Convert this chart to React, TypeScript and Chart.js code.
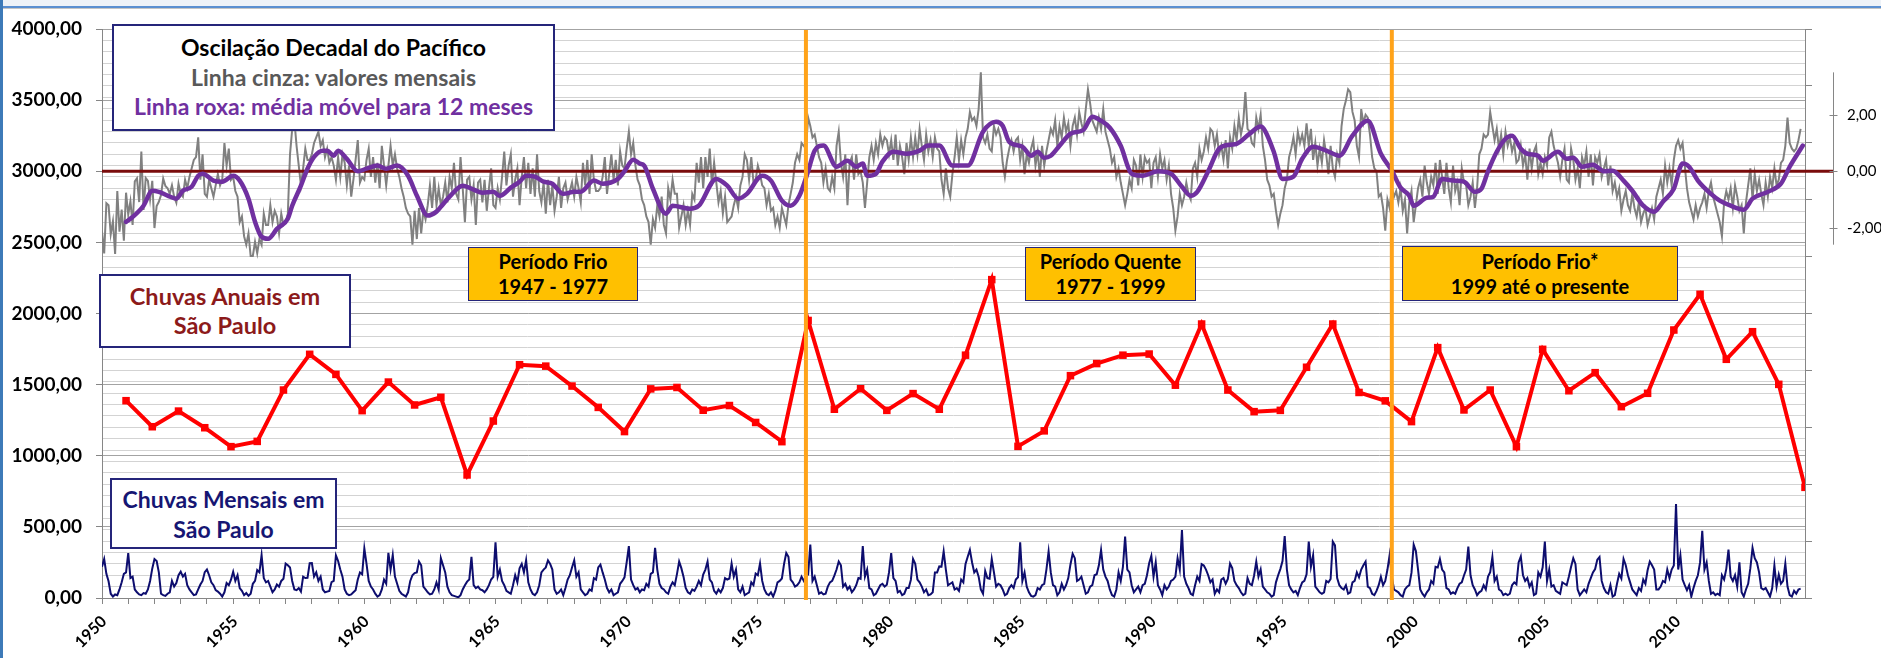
import React, { useEffect, useRef } from 'react';
import { Chart, registerables } from 'chart.js';

Chart.register(...registerables);

// ---------------- DATA ----------------
const startYear = 1950;
const lastMonthIndex = 779; // Dec 2014
const yearLabels = ['1950', '1955', '1960', '1965', '1970', '1975', '1980', '1985', '1990', '1995', '2000', '2005', '2010'];
const rainAxisTicks = [0, 500, 1000, 1500, 2000, 2500, 3000, 3500, 4000];
const pdoTicks = [-2, 0, 2];

// Annual rainfall in São Paulo (mm), 1950..2014
const rainAnnual = [
  1387, 1204, 1314, 1197, 1064, 1101, 1462, 1713, 1572, 1317,
  1518, 1357, 1411, 865, 1244, 1640, 1630, 1490, 1340, 1170,
  1470, 1480, 1320, 1353, 1234, 1099, 1951, 1327, 1471, 1319,
  1437, 1327, 1707, 2238, 1066, 1175, 1563, 1648, 1707, 1715,
  1496, 1926, 1462, 1310, 1319, 1622, 1926, 1445, 1386, 1240,
  1760, 1322, 1462, 1064, 1748, 1457, 1584, 1345, 1439, 1884,
  2135, 1678, 1872, 1502, 778,
];

// Monthly rainfall in São Paulo (mm), Jan 1950 .. Oct 2014
const rainMonthly = [
  220, 274, 170, 118, 30, 10, 25, 20, 60, 110, 170, 180,
  316, 140, 150, 60, 40, 25, 20, 35, 30, 60, 120, 208,
  274, 260, 180, 30, 20, 15, 30, 40, 120, 80, 105, 160,
  185, 150, 170, 90, 60, 40, 20, 25, 60, 95, 120, 182,
  200, 160, 110, 90, 55, 45, 30, 10, 40, 105, 90, 129,
  185, 120, 160, 70, 50, 20, 35, 15, 30, 100, 120, 196,
  180, 302, 140, 110, 120, 80, 40, 60, 95, 80, 120, 135,
  242, 230, 215, 120, 60, 55, 70, 45, 150, 140, 142, 244,
  245, 150, 180, 120, 150, 60, 40, 45, 50, 112, 120, 300,
  260, 200, 150, 60, 30, 20, 25, 40, 55, 130, 180, 167,
  349, 240, 120, 80, 60, 30, 10, 20, 60, 130, 101, 318,
  200, 302, 150, 100, 50, 30, 20, 10, 40, 120, 160, 175,
  180, 256, 230, 80, 60, 40, 25, 30, 60, 110, 60, 280,
  230, 180, 80, 40, 20, 15, 10, 5, 20, 60, 90, 115,
  130, 290, 90, 70, 80, 60, 55, 40, 60, 90, 130, 149,
  391, 150, 200, 120, 90, 50, 40, 30, 90, 160, 110, 209,
  240, 180, 265, 110, 60, 30, 20, 40, 90, 180, 200, 215,
  265, 240, 200, 60, 30, 40, 60, 20, 70, 130, 160, 215,
  265, 150, 180, 60, 40, 20, 30, 60, 50, 140, 130, 215,
  235, 180, 130, 70, 40, 60, 20, 30, 40, 100, 120, 145,
  250, 365, 130, 90, 60, 70, 40, 60, 55, 100, 80, 170,
  180, 352, 200, 100, 70, 60, 40, 30, 80, 110, 90, 168,
  256, 210, 150, 70, 40, 30, 60, 50, 80, 120, 90, 164,
  200, 256, 130, 110, 50, 30, 60, 40, 70, 140, 130, 137,
  242, 150, 200, 60, 40, 80, 20, 30, 40, 110, 90, 172,
  160, 242, 120, 60, 30, 20, 40, 10, 50, 110, 120, 137,
  240, 316, 290, 130, 110, 80, 90, 110, 150, 120, 150, 165,
  375, 120, 150, 90, 30, 40, 25, 30, 80, 110, 120, 157,
  200, 256, 230, 80, 100, 60, 80, 40, 60, 90, 140, 135,
  365, 150, 200, 70, 60, 20, 30, 60, 90, 100, 80, 94,
  180, 316, 140, 120, 40, 50, 20, 30, 70, 70, 127, 274,
  240, 130, 110, 80, 40, 60, 20, 25, 40, 180, 180, 222,
  220, 327, 200, 90, 100, 110, 60, 70, 50, 130, 110, 240,
  290, 338, 250, 180, 200, 150, 60, 30, 190, 140, 136, 274,
  180, 80, 100, 90, 60, 20, 30, 70, 90, 70, 130, 146,
  391, 120, 180, 80, 40, 15, 10, 20, 70, 60, 90, 99,
  200, 327, 180, 90, 80, 20, 40, 100, 60, 90, 140, 236,
  311, 280, 120, 130, 150, 90, 30, 40, 80, 90, 160, 167,
  230, 338, 200, 150, 120, 60, 20, 10, 60, 180, 120, 219,
  431, 200, 180, 90, 40, 60, 80, 40, 90, 100, 160, 244,
  296, 150, 250, 90, 60, 20, 90, 60, 80, 120, 130, 150,
  280, 200, 478, 150, 100, 70, 30, 20, 90, 150, 120, 238,
  228, 200, 160, 110, 130, 30, 60, 40, 130, 140, 100, 134,
  242, 210, 120, 90, 70, 40, 20, 30, 140, 100, 90, 158,
  256, 150, 200, 80, 60, 40, 30, 10, 20, 110, 160, 203,
  260, 436, 200, 90, 60, 40, 50, 20, 70, 110, 120, 166,
  396, 220, 300, 80, 60, 40, 30, 40, 120, 110, 134, 396,
  370, 140, 90, 70, 60, 90, 30, 40, 110, 120, 180, 145,
  200, 230, 256, 80, 70, 30, 20, 50, 90, 150, 90, 120,
  200, 302, 150, 60, 50, 40, 20, 10, 60, 80, 90, 178,
  375, 330, 200, 60, 30, 10, 40, 60, 120, 100, 220, 215,
  274, 200, 180, 70, 60, 30, 40, 30, 70, 100, 110, 158,
  200, 361, 160, 90, 60, 20, 40, 50, 90, 60, 150, 181,
  288, 120, 150, 60, 50, 20, 30, 20, 30, 90, 110, 96,
  250, 292, 160, 120, 140, 80, 110, 20, 30, 180, 150, 216,
  396, 120, 200, 80, 90, 50, 40, 30, 110, 100, 90, 151,
  220, 280, 240, 60, 20, 40, 60, 40, 100, 140, 180, 204,
  270, 288, 120, 70, 40, 30, 90, 10, 20, 100, 170, 137,
  274, 230, 160, 110, 60, 40, 20, 70, 50, 130, 100, 195,
  256, 230, 200, 60, 60, 80, 120, 110, 200, 140, 200, 228,
  661, 200, 300, 130, 90, 54, 90, 10, 70, 120, 160, 250,
  473, 200, 250, 120, 30, 40, 20, 30, 20, 160, 130, 205,
  340, 150, 120, 160, 80, 250, 40, 10, 60, 100, 210, 352,
  280, 250, 180, 70, 60, 70, 40, 10, 70, 228, 80, 164,
  100, 120, 242, 80, 20, 10, 50, 30, 60, 66,
];

// Pacific Decadal Oscillation, monthly index, Jan 1950 .. Oct 2014 (grey line)
const pdoMonthly = [
  -2.13, -2.91, -1.13, -1.2, -2.23, -1.77, -2.93, -0.7, -2.14, -1.36, -2.46, -0.76,
  -1.54, -1.06, -1.9, -0.36, -0.25, -1.09, 0.7, -1.37, -0.24, -0.34, -1.0, -0.34,
  -2.01, -1.23, -1.08, -0.84, -0.26, -0.52, -0.6, -0.8, -0.5, -0.9, -1.11, -0.44,
  -0.8, -0.9, -0.3, -0.6, -0.2, 0.1, 0.4, 0.5, 1.2, -0.3, 0.6, -0.8,
  -0.9, -0.3, -0.6, -0.9, -0.5, -0.1, -0.5, -0.3, 1.0, 0.2, 0.8, -0.3,
  -0.2, -0.7, -0.9, -1.8, -1.6, -2.3, -2.6, -2.2, -3.0, -3.0, -2.5, -2.9,
  -2.4, -2.6, -1.5, -1.9, -1.9, -1.2, -1.8, -1.4, -1.6, -2.2, -1.5, -1.9,
  -1.8, -1.5, 0.6, 1.5, 1.8, 0.9, 0.2, -0.5, 0.1, 0.8, 0.4, 0.4,
  0.6, 1.0, 1.2, 1.4, 0.9, 1.1, 0.5, 0.8, 0.3, 0.5, 0.2, -0.3,
  0.5, -0.2, 0.6, 0.3, -0.5, 0.2, -0.9, -0.3, 0.4, 1.1, -0.4, -0.2,
  -0.3, 0.4, 0.8, -0.2, 0.5, -0.4, 0.3, -0.6, 0.9, 0.2, -0.5, 0.2,
  0.9, 0.2, 0.6, 0.1, -0.2, -0.6, -0.9, -1.3, -1.5, -1.6, -2.6, -1.4,
  -2.4, -1.3, -2.2, -1.4, -1.7, -1.2, -0.5, -1.3, -0.2, -1.2, -0.6, -1.2,
  -0.9, -0.4, -1.1, -0.2, -0.6, 0.3, -0.8, -1.0, 0.5, -0.6, -1.8, -0.3,
  -0.2, -1.0, -0.5, -1.9, -0.4, -0.3, -1.1, -0.3, -1.4, -0.6, 0.1, -1.2,
  -1.3, -0.6, -1.0, -0.2, 0.7, -0.5, 0.2, 0.6, -0.9, -0.3, 0.1, -1.2,
  -0.2, 0.5, -0.6, 0.3, -0.8, 0.1, -0.9, 0.6, -0.7, -1.1, -0.4, -1.5,
  -0.3, -1.2, -0.5, -1.4, -0.9, -0.2, -1.3, -0.6, -0.4, -1.0, -0.7, -0.4,
  -0.9, -0.2, -0.6, -1.1, 0.3, -0.5, 0.4, -0.8, 0.6, -0.3, -0.7, -0.7,
  -0.6, -0.2, 0.5, -0.8, -0.1, 0.6, -0.3, 0.4, -0.5, 0.7, 0.2, 0.1,
  0.8, 1.4, 0.6, 1.0, 0.2, -0.3, -0.5, -1.0, -1.2, -1.6, -1.8, -2.6,
  -1.7, -2.0, -1.2, -1.6, -0.9, -1.9, -2.2, -0.6, -1.0, -0.3, -0.8, -0.8,
  -2.0, -1.6, -1.2, -1.9, -1.4, -1.9, -0.8, -1.0, 0.3, -0.4, 0.5, -0.6,
  0.5, -0.2, 0.8, -0.5, 0.3, -0.4, -1.1, -0.7, -1.5, -0.9, -1.8, -1.7,
  -1.6, -1.2, -0.9, -1.3, -0.5, -0.2, 0.6, 0.4, -0.3, 0.5, -0.4, -0.3,
  0.2, -0.1, -0.5, -0.6, -1.2, -0.8, -1.4, -1.3, -1.9, -1.6, -2.0, -1.3,
  -1.6, -1.9, -1.2, -0.8, -0.4, 0.3, 0.6, 0.4, 1.0, 0.9, 0.8, 1.9,
  1.6, 1.2, 1.3, 0.9, 0.5, 0.3, -0.4, 0.1, -0.6, -0.7, -0.2, -0.6,
  0.9, 1.4, 0.3, -0.2, 0.6, -1.2, 0.3, 0.5, -0.3, 0.6, -0.1, 0.0,
  -0.4, -1.3, -0.4, 0.5, 0.9, 0.4, 1.0, 0.6, 1.3, 0.9, 1.2, 1.1,
  0.6, 1.1, 0.4, 1.3, 0.2, 0.9, 0.5, -0.1, 1.0, 0.4, 1.2, 0.5,
  1.2, 0.6, 1.5, 0.9, 0.4, 1.3, 0.7, 1.1, 0.5, 1.2, 0.8, 0.7,
  -0.3, -0.8, 0.1, -0.6, -0.9, -0.1, 0.5, 1.2, 0.4, 1.1, 0.6, 1.2,
  1.5, 2.1, 1.8, 1.9, 1.6, 2.2, 3.5, 1.2, 1.0, 1.3, 0.8, 0.7,
  1.6, 1.3, 1.5, 1.2, 0.3, -0.2, 0.4, 0.8, 1.1, 0.7, 1.1, 1.2,
  0.4, 0.9, -0.1, 0.6, 0.3, 0.8, 1.1, 0.2, 0.7, -0.2, 0.9, 0.2,
  0.7, 1.1, 1.5, 1.3, 1.8, 0.9, 1.6, 1.2, 1.9, 1.4, 1.7, 0.9,
  1.6, 1.9, 1.3, 2.1, 1.7, 1.4, 2.2, 2.9, 2.4, 1.8, 1.6, 1.4,
  1.9, 1.5, 2.2, 1.4, 1.1, 0.8, 0.3, 0.5, -0.2, 0.1, -0.4, -0.8,
  -1.2, -0.8, -0.3, -0.6, 0.4, 0.2, -0.5, 0.6, -0.2, 0.5, 0.3, 0.4,
  -0.6, 0.3, 0.5, -0.2, 0.6, 0.1, 0.4, -0.3, 0.2, -0.8, -1.3, -2.1,
  -1.6, -0.8, -1.2, -0.9, -0.4, -0.8, -1.0, 0.1, 0.3, -0.2, 0.8, 0.4,
  0.7, 1.2, 0.8, 1.5, 1.4, 0.9, 1.3, 0.6, 0.9, 0.4, 1.1, 0.1,
  1.2, 0.8, 1.6, 1.1, 1.9, 1.3, 1.7, 2.8, 1.5, 1.4, 1.0, 0.9,
  1.9, 1.5, 2.0, 0.9, 0.4, -0.3, -0.5, -0.9, -0.8, -1.4, -1.9, -1.5,
  -1.2, -0.6, -0.3, 0.5, 0.8, 1.2, 0.6, 1.4, 1.0, 1.3, 0.9, 1.7,
  0.9, 1.5, 0.4, 1.0, 0.2, 0.8, 0.3, 1.1, 0.6, -0.1, 0.9, 0.1,
  -0.2, 0.6, 0.3, 1.6, 2.2, 2.5, 2.9, 2.8, 2.1, 1.8, 0.9, 0.5,
  2.2, 1.7, 2.0, 1.9, 1.3, 0.5, 0.1, 0.0, -0.9, -0.8, -1.3, -2.1,
  -1.0, -1.3, -0.6, -0.9, -0.7, -1.1, -0.6, -1.4, -1.0, -2.2, -1.1, -0.7,
  -1.8, -1.2, -0.6, -0.3, -0.9, 0.2, -0.4, -0.8, -0.2, -0.5, 0.3, -0.8,
  0.4, -0.2, -0.8, 0.3, -0.6, -1.1, 0.2, -0.7, -0.4, -1.2, 0.1, -0.4,
  -0.5, -1.2, -0.9, -0.4, -1.3, -0.6, 0.6, 0.8, 1.3, 1.2, 1.3, 2.1,
  1.6, 1.1, 1.5, 0.8, 1.3, 0.6, 1.4, 0.9, 1.2, 0.7, 1.0, 0.3,
  0.4, 0.9, 0.2, 0.6, -0.3, 0.8, 0.1, 0.7, 0.9, -0.1, 0.3, -0.1,
  0.5, 0.2, 1.2, 1.4, 0.9, 0.6, 0.3, -0.2, 0.4, 0.8, -0.3, -0.4,
  0.8, 0.4, -0.3, 0.1, -0.6, 0.5, 0.2, 0.7, -0.2, 0.6, -0.5, 0.5,
  0.3, 0.6, -0.2, 0.1, 0.4, -0.5, 0.2, -0.7, -0.4, -0.9, -0.6, -1.4,
  -1.0, -0.7, -1.2, -1.4, -0.8, -1.3, -1.6, -1.1, -1.8, -1.5, -1.3, -1.9,
  -1.6, -1.3, -1.7, -0.9, -0.6, -0.3, -0.8, 0.2, -0.4, 0.1, -0.5, 0.4,
  0.9, 1.1, 0.8, 1.0, 0.2, -0.6, -1.1, -1.4, -1.7, -1.2, -1.6, -1.3,
  -1.1, -0.8, -1.3, -0.7, -0.4, -0.9, -1.2, -1.5, -1.8, -2.3, -1.1, -0.7,
  -1.0, -0.6, -1.3, -0.5, -0.9, -1.4, -1.2, -2.2, -1.1, -0.5, 0.1, -1.0,
  -0.1, -0.7, -0.3, -0.8, -1.2, -0.4, -0.9, -0.2, -0.6, 0.1, -0.5, -0.3,
  0.3, 0.4, 0.9, 1.9, 1.0, 0.8, 0.7, 0.8, 1.1, 1.5,
];

// 12-month moving average of the PDO (purple line), read at these month indexes
const pdoAvgMonth = [
  11, 14, 19, 23, 26, 30, 34, 37, 41, 44, 46, 51, 55, 60, 63, 67, 70, 73, 76, 80,
  85, 87, 91, 94, 97, 101, 103, 106, 108, 112, 117, 121, 126, 130, 135, 140, 144, 149, 153, 155,
  159, 165, 170, 174, 179, 182, 187, 191, 194, 198, 202, 206, 211, 216, 219, 225, 229, 236, 239, 243,
  246, 248, 252, 258, 261, 269, 273, 281, 286, 291, 295, 302, 306, 311, 315, 319, 323, 326, 330, 336,
  341, 345, 348, 350, 354, 357, 362, 368, 374, 378, 383, 389, 396, 403, 409, 412, 415, 421, 425, 428,
  431, 434, 438, 443, 449, 453, 457, 461, 466, 471, 476, 483, 489, 494, 498, 501, 506, 511, 516, 519,
  525, 530, 532, 536, 540, 545, 549, 554, 560, 566, 572, 579, 585, 590, 594, 598, 600, 606, 609, 613,
  618, 623, 628, 631, 634, 638, 642, 645, 649, 652, 657, 659, 666, 670, 673, 677, 682, 687, 691, 696,
  700, 705, 710, 714, 719, 723, 726, 730, 736, 740, 745, 751, 755, 762, 768, 772, 778,
];
const pdoAvgValue = [
  -1.79, -1.62, -1.22, -0.69, -0.73, -0.86, -0.97, -0.69, -0.55, -0.16, -0.09, -0.33, -0.37, -0.16, -0.33, -0.97, -1.79, -2.32, -2.39, -2.04,
  -1.68, -1.22, -0.51, 0.09, 0.51, 0.73, 0.73, 0.55, 0.73, 0.44, 0.0, 0.09, 0.2, 0.09, 0.2, -0.16, -0.86, -1.57, -1.43, -1.26,
  -0.9, -0.51, -0.65, -0.76, -0.73, -0.87, -0.58, -0.37, -0.16, -0.19, -0.37, -0.44, -0.8, -0.73, -0.73, -0.33, -0.44, -0.27, 0.0, 0.41,
  0.27, 0.2, -0.62, -1.5, -1.22, -1.33, -1.22, -0.27, -0.51, -0.97, -0.8, -0.16, -0.33, -1.04, -1.22, -0.87, 0.0, 0.73, 0.91, 0.16,
  0.37, 0.16, 0.27, -0.16, -0.09, 0.34, 0.69, 0.62, 0.73, 0.91, 0.91, 0.2, 0.2, 1.4, 1.75, 1.61, 1.04, 0.87, 0.55, 0.69,
  0.48, 0.55, 0.9, 1.33, 1.47, 1.93, 1.79, 1.54, 0.9, -0.09, -0.16, 0.0, -0.09, -0.55, -0.87, -0.73, 0.0, 0.8, 0.94, 0.97,
  1.33, 1.58, 1.43, 0.69, -0.27, -0.19, 0.44, 0.87, 0.73, 0.55, 1.26, 1.79, 0.62, 0.02, -0.58, -0.87, -1.22, -0.94, -0.9, -0.27,
  -0.33, -0.37, -0.73, -0.62, 0.0, 0.69, 1.15, 1.26, 0.8, 0.62, 0.55, 0.37, 0.69, 0.44, 0.48, 0.16, 0.23, 0.0, 0.02, -0.33,
  -0.69, -1.22, -1.43, -1.08, -0.62, 0.27, 0.16, -0.33, -0.8, -1.04, -1.22, -1.36, -0.97, -0.73, -0.44, 0.16, 0.91,
];

// Period boundaries (month index): end of 1976, early 1999
const periodBoundaryMonths = [322, 590];

// PDO axis placement relative to the rain axis (PDO 0 sits on 3000 mm)
const pdoZeroOnRainAxis = 3000;
const rainUnitsPerPdo = 198.6;
const pdoAxisSpan = [-2.6, 3.5];

// ---------------- STYLE ----------------
const FONT = "Lato, 'Noto Sans', 'DejaVu Sans', sans-serif";
const AXIS_GREY = '#868686';
const W = 1881;
const H = 658;
const PDO_AXIS_LINE_OFFSET = 14; // pdo axis line sits this far left of its labels

const fmt = (v: number) => Number(v).toFixed(2).replace('.', ',');

const overlayPlugin = {
  id: 'pdoOverlay',
  beforeDatasetDraw(chart: any, args: any) {
    const ds = chart.data.datasets[args.index];
    if (!ds || ds.label !== 'PDO - média móvel 12 meses') return;
    const y2 = chart.scales.y2;
    const { ctx, chartArea } = chart;
    const y = y2.getPixelForValue(0);
    ctx.save();
    ctx.strokeStyle = '#7a0c0c';
    ctx.lineWidth = 3;
    ctx.beginPath();
    ctx.moveTo(chartArea.left, y);
    ctx.lineTo(y2.left - PDO_AXIS_LINE_OFFSET, y);
    ctx.stroke();
    ctx.restore();
  },
  afterDatasetsDraw(chart: any) {
    const { ctx, chartArea } = chart;
    const xs = chart.scales.x;
    ctx.save();
    ctx.strokeStyle = '#ffa31a';
    ctx.lineWidth = 4;
    periodBoundaryMonths.forEach((m) => {
      const x = xs.getPixelForValue(m);
      ctx.beginPath();
      ctx.moveTo(x, chartArea.top + 1);
      ctx.lineTo(x, chartArea.bottom + 2);
      ctx.stroke();
    });
    ctx.restore();
  },
  afterDraw(chart: any) {
    const y2 = chart.scales.y2;
    const { ctx } = chart;
    const x = Math.round(y2.left - PDO_AXIS_LINE_OFFSET) + 0.5;
    ctx.save();
    ctx.strokeStyle = AXIS_GREY;
    ctx.lineWidth = 1;
    ctx.beginPath();
    ctx.moveTo(x, y2.getPixelForValue(pdoAxisSpan[1]));
    ctx.lineTo(x, y2.getPixelForValue(pdoAxisSpan[0]));
    pdoTicks.forEach((t) => {
      const y = Math.round(y2.getPixelForValue(t)) + 0.5;
      ctx.moveTo(x - 4, y);
      ctx.lineTo(x + 4, y);
    });
    ctx.stroke();
    ctx.restore();
  },
};

type BoxSpec = {
  left: number; top: number; width: number; height: number; bg: string; border: number;
  fontSize: number; lineHeight: number; lines: [string, string][];
};

const annotationBoxes: BoxSpec[] = [
  {
    left: 112, top: 24, width: 443, height: 107, bg: '#ffffff', border: 2, fontSize: 23, lineHeight: 29.5,
    lines: [
      ['Oscilação Decadal do Pacífico', '#000000'],
      ['Linha cinza: valores mensais', '#595959'],
      ['Linha roxa: média móvel para 12 meses', '#7030a0'],
    ],
  },
  {
    left: 99, top: 274, width: 252, height: 74, bg: '#ffffff', border: 2, fontSize: 23.5, lineHeight: 29,
    lines: [['Chuvas Anuais em', '#8c1a1a'], ['São Paulo', '#8c1a1a']],
  },
  {
    left: 110, top: 478, width: 227, height: 71, bg: '#ffffff', border: 2, fontSize: 23, lineHeight: 30,
    lines: [['Chuvas Mensais em', '#161673'], ['São Paulo', '#161673']],
  },
  {
    left: 468, top: 247, width: 170, height: 54, bg: '#ffc000', border: 1.5, fontSize: 20, lineHeight: 25,
    lines: [['Período Frio', '#000000'], ['1947 - 1977', '#000000']],
  },
  {
    left: 1025, top: 247, width: 171, height: 54, bg: '#ffc000', border: 1.5, fontSize: 20, lineHeight: 25,
    lines: [['Período Quente', '#000000'], ['1977 - 1999', '#000000']],
  },
  {
    left: 1402, top: 246, width: 276, height: 55, bg: '#ffc000', border: 1.5, fontSize: 20, lineHeight: 25,
    lines: [['Período Frio*', '#000000'], ['1999 até o presente', '#000000']],
  },
];

function AnnotationBox({ spec }: { spec: BoxSpec }) {
  return (
    <div
      style={{
        position: 'absolute',
        left: spec.left,
        top: spec.top,
        width: spec.width,
        height: spec.height,
        boxSizing: 'border-box',
        background: spec.bg,
        border: `${spec.border}px solid #25257a`,
        display: 'flex',
        flexDirection: 'column',
        alignItems: 'center',
        justifyContent: 'center',
        fontFamily: FONT,
        fontWeight: 700,
        fontSize: spec.fontSize,
        lineHeight: `${spec.lineHeight}px`,
        whiteSpace: 'nowrap',
      }}
    >
      {spec.lines.map(([t, c], i) => (
        <div key={i} style={{ color: c }}>{t}</div>
      ))}
    </div>
  );
}

export default function App() {
  const canvasRef = useRef<HTMLCanvasElement | null>(null);

  useEffect(() => {
    const canvas = canvasRef.current;
    if (!canvas) return;

    const yearTickMonths: number[] = [];
    for (let m = 0; m < lastMonthIndex; m += 12) yearTickMonths.push(m);
    const minorRainTicks: number[] = [];
    for (let v = 0; v <= 4000; v += 80) minorRainTicks.push(v);
    const rightRainTicks: number[] = [];
    for (let v = 0; v <= 4000; v += 400) rightRainTicks.push(v);

    const chart = new Chart(canvas, {
      type: 'line',
      data: {
        datasets: [
          {
            label: 'PDO - média móvel 12 meses',
            data: pdoAvgMonth.map((m, i) => ({ x: m, y: pdoAvgValue[i] })),
            yAxisID: 'y2',
            borderColor: '#7030a0',
            borderWidth: 4.5,
            pointRadius: 0,
            cubicInterpolationMode: 'monotone',
            borderJoinStyle: 'round',
            borderCapStyle: 'round',
            order: 1,
          },
          {
            label: 'PDO - valores mensais',
            data: pdoMonthly.map((v, i) => ({ x: i, y: v })),
            yAxisID: 'y2',
            borderColor: '#808080',
            borderWidth: 2,
            pointRadius: 0,
            order: 2,
          },
          {
            label: 'Chuvas anuais',
            data: rainAnnual.map((v, k) => ({ x: k * 12 + 11, y: v })),
            yAxisID: 'y',
            borderColor: '#ff0000',
            borderWidth: 4,
            pointStyle: 'rect',
            pointRadius: 2.5,
            pointBackgroundColor: '#ff0000',
            pointBorderColor: '#ff0000',
            order: 3,
          },
          {
            label: 'Chuvas mensais',
            data: rainMonthly.map((v, i) => ({ x: i, y: v })),
            yAxisID: 'y',
            borderColor: '#0d0d6e',
            borderWidth: 2,
            pointRadius: 0,
            order: 4,
          },
        ],
      },
      options: {
        responsive: false,
        animation: false,
        events: [],
        layout: { padding: { top: 29, left: 0, right: 0, bottom: 0 } },
        plugins: { legend: { display: false }, tooltip: { enabled: false } },
        scales: {
          x: {
            type: 'linear',
            position: 'bottom',
            min: 0,
            max: lastMonthIndex,
            afterBuildTicks: (s: any) => { s.ticks = yearTickMonths.map((v) => ({ value: v })); },
            afterFit: (s: any) => { s.height = 60; },
            ticks: {
              autoSkip: false,
              minRotation: 45,
              maxRotation: 45,
              padding: 8,
              labelOffset: 2,
              color: '#000',
              font: { family: FONT, size: 16, weight: 'bold' },
              callback: (v: any) => {
                const yearsFromStart = Number(v) / 12;
                return yearsFromStart % 5 === 0 ? yearLabels[yearsFromStart / 5] : '';
              },
            },
            grid: { drawOnChartArea: false, drawTicks: true, tickLength: 6, tickColor: AXIS_GREY },
            border: { color: AXIS_GREY, width: 1 },
          },
          yMinor: {
            type: 'linear',
            position: 'left',
            min: 0,
            max: 4000,
            z: -1,
            afterBuildTicks: (s: any) => { s.ticks = minorRainTicks.map((v) => ({ value: v })); },
            afterFit: (s: any) => { s.width = 0; },
            ticks: { display: false },
            grid: { color: '#d3d3d3', lineWidth: 1, drawTicks: false },
            border: { display: false },
          },
          y: {
            type: 'linear',
            position: 'left',
            min: 0,
            max: 4000,
            afterBuildTicks: (s: any) => { s.ticks = rainAxisTicks.map((v) => ({ value: v })); },
            afterFit: (s: any) => { s.width = 102; },
            ticks: {
              padding: 14,
              color: '#000',
              font: { family: FONT, size: 19, weight: 'bold' },
              callback: (v: any) => fmt(v),
            },
            grid: { color: '#a3a3a3', lineWidth: 1, tickLength: 6, tickColor: AXIS_GREY },
            border: { color: AXIS_GREY, width: 1 },
          },
          yR: {
            type: 'linear',
            position: 'right',
            weight: 0,
            min: 0,
            max: 4000,
            afterBuildTicks: (s: any) => { s.ticks = rightRainTicks.map((v) => ({ value: v })); },
            afterFit: (s: any) => { s.width = 42; },
            ticks: { display: false },
            grid: { drawOnChartArea: false, drawTicks: true, tickLength: 7, tickColor: AXIS_GREY },
            border: { color: AXIS_GREY, width: 1 },
          },
          y2: {
            type: 'linear',
            position: 'right',
            weight: 1,
            min: (0 - pdoZeroOnRainAxis) / rainUnitsPerPdo,
            max: (4000 - pdoZeroOnRainAxis) / rainUnitsPerPdo,
            afterBuildTicks: (s: any) => { s.ticks = pdoTicks.map((v) => ({ value: v })); },
            afterFit: (s: any) => { s.width = 34; },
            ticks: {
              padding: 0,
              color: '#000',
              font: { family: FONT, size: 15 },
              callback: (v: any) => fmt(v),
            },
            grid: { display: false, drawTicks: false },
            border: { display: false },
          },
        },
      } as any,
      plugins: [overlayPlugin as any],
    });

    return () => chart.destroy();
  }, []);

  return (
    <div
      style={{
        position: 'fixed',
        left: 0,
        top: 0,
        width: W,
        height: H,
        background: '#ffffff',
        overflow: 'hidden',
      }}
    >
      <div style={{ position: 'absolute', left: 0, top: 0, width: W, height: 6, background: '#eef2f7' }} />
      <div style={{ position: 'absolute', left: 0, top: 6, width: W, height: 1.5, background: '#5b8fd0' }} />
      <div style={{ position: 'absolute', left: 0, top: 8, width: W, height: 1, background: '#c4c4c4' }} />
      <div style={{ position: 'absolute', left: 0, top: 0, width: 3, height: H, background: '#3d7ab8' }} />
      <canvas
        ref={canvasRef}
        width={W}
        height={H}
        style={{ position: 'absolute', left: 0, top: 0, width: W, height: H }}
      />
      {annotationBoxes.map((b, i) => (
        <AnnotationBox key={i} spec={b} />
      ))}
    </div>
  );
}
